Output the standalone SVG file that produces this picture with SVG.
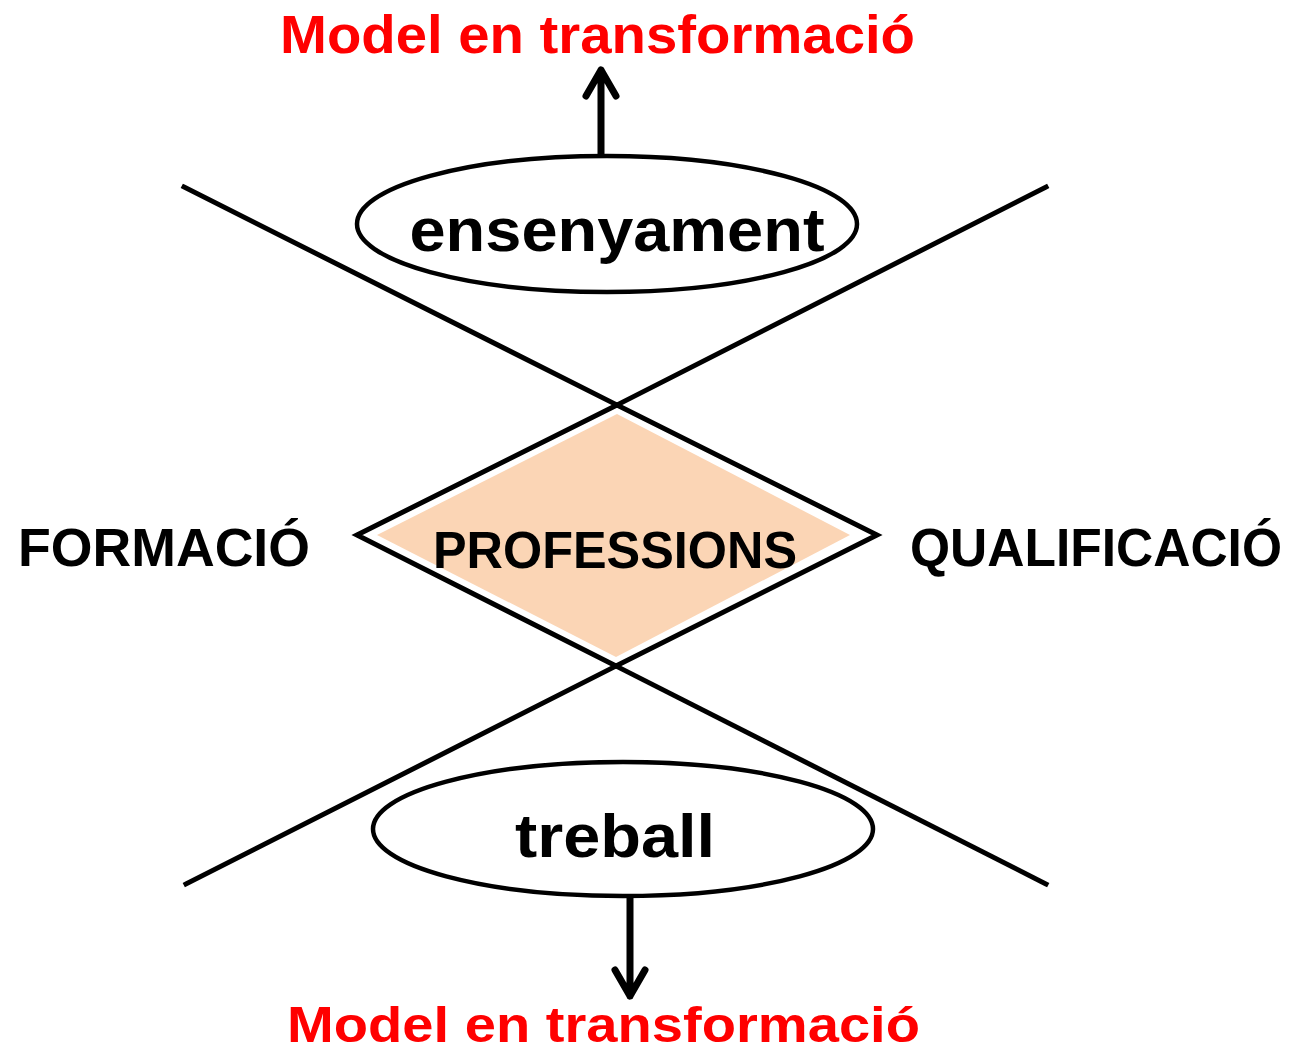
<svg xmlns="http://www.w3.org/2000/svg" width="1299" height="1054" viewBox="0 0 1299 1054">
<style>
.ln{stroke:#000;stroke-width:5;fill:none;stroke-linecap:square}
.el{stroke:#000;stroke-width:4.5;fill:#fff}
.t{font-family:"Liberation Sans",Arial,sans-serif;font-weight:bold;fill:#000}
.red{font-family:"Liberation Sans",Arial,sans-serif;font-weight:bold;fill:#ff0000}
.ar{stroke:#000;stroke-width:7;fill:none;stroke-linecap:round;stroke-linejoin:round}
</style>
<rect width="1299" height="1054" fill="#fff"/>
<g id="connectors">
<line class="ln" x1="184" y1="187" x2="617" y2="405"/>
<line class="ln" x1="1046" y1="187" x2="617" y2="405"/>
<line class="ln" x1="186" y1="884" x2="616" y2="666"/>
<line class="ln" x1="1046" y1="884" x2="616" y2="666"/>
<path class="ar" d="M601,155 V70 M586,96 L601,70 L616,96"/>
<path class="ar" d="M630,897 V996 M615,970 L630,996 L645,970"/>
</g>
<g id="professions">
<polygon points="357,535 617,405 877,535 616,666" fill="#fff" stroke="#000" stroke-width="5" stroke-linejoin="miter"/>
<polygon points="377,535 617,414 850,535 616,657" fill="#fbd5b5"/>
<text class="t" x="615" y="568" font-size="52" text-anchor="middle" textLength="364" lengthAdjust="spacingAndGlyphs">PROFESSIONS</text>
</g>
<g id="ensenyament">
<ellipse class="el" cx="607" cy="224" rx="250" ry="68"/>
<text class="t" x="617" y="251" font-size="62" text-anchor="middle" textLength="415" lengthAdjust="spacingAndGlyphs">ensenyament</text>
</g>
<g id="treball">
<ellipse class="el" cx="623" cy="829" rx="250" ry="67"/>
<text class="t" x="615" y="857" font-size="62" text-anchor="middle" textLength="200" lengthAdjust="spacingAndGlyphs">treball</text>
</g>
<g id="formacio">
<text class="t" x="18" y="566" font-size="54" textLength="292" lengthAdjust="spacingAndGlyphs">FORMACIÓ</text>
</g>
<g id="qualificacio">
<text class="t" x="910" y="566" font-size="54" textLength="372" lengthAdjust="spacingAndGlyphs">QUALIFICACIÓ</text>
</g>
<g id="model-top">
<text class="red" x="280" y="53" font-size="54" textLength="635" lengthAdjust="spacingAndGlyphs">Model en transformació</text>
</g>
<g id="model-bottom">
<text class="red" x="287" y="1042" font-size="50" textLength="633" lengthAdjust="spacingAndGlyphs">Model en transformació</text>
</g>
</svg>
